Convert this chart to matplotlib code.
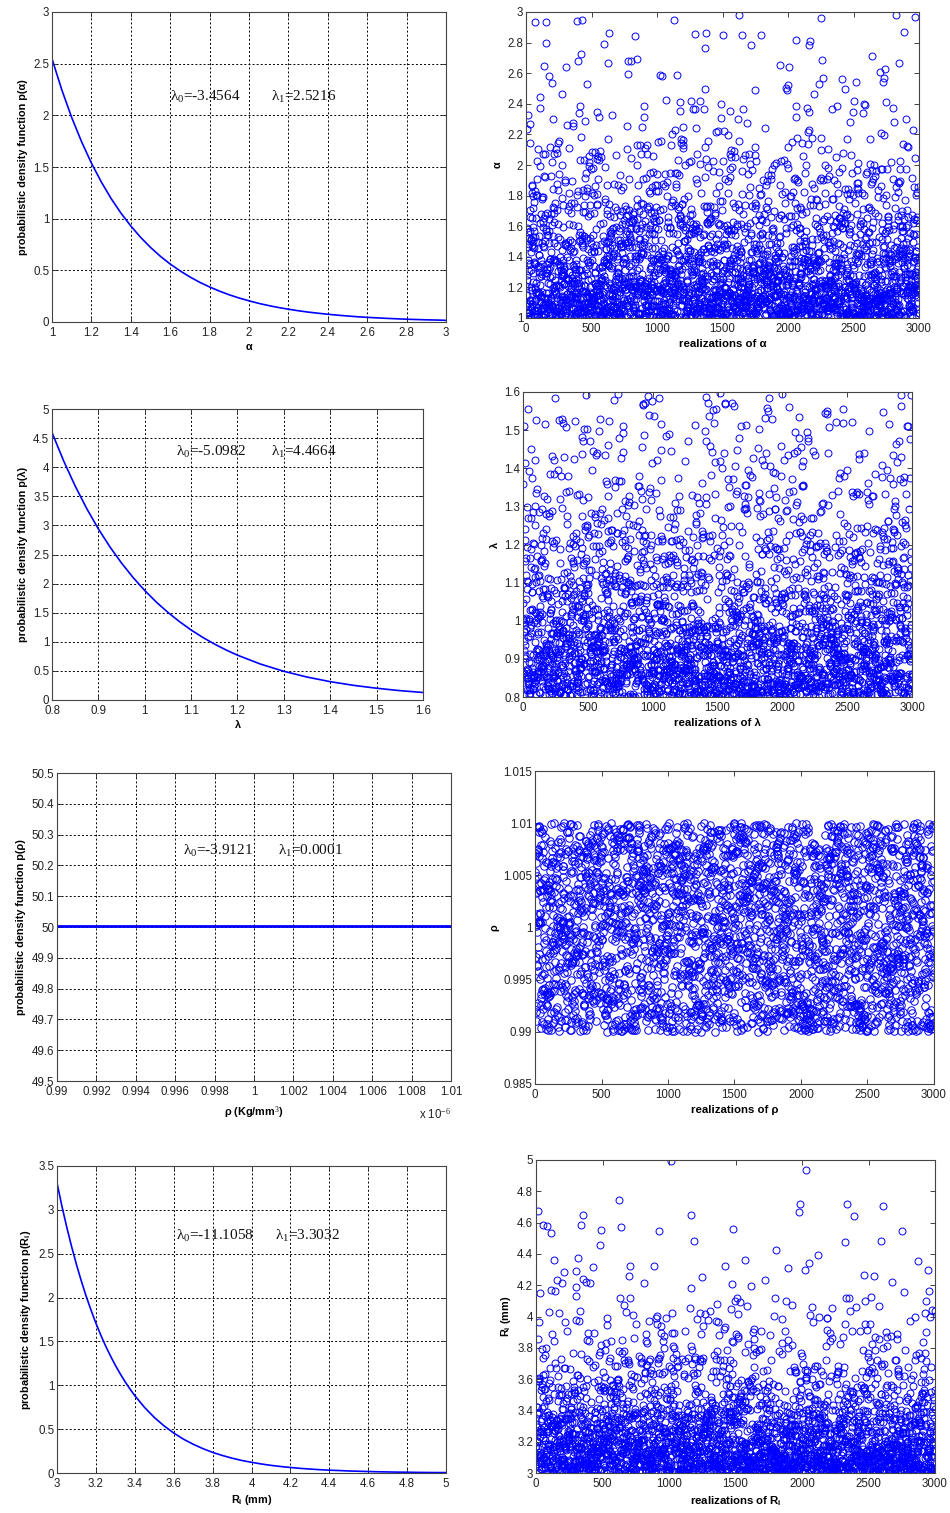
import numpy as np
import matplotlib
matplotlib.use("Agg")
import matplotlib.pyplot as plt
from matplotlib.ticker import FuncFormatter

plt.rcParams["font.family"] = ["Liberation Sans", "DejaVu Sans"]
plt.rcParams["mathtext.fontset"] = "custom"
plt.rcParams["mathtext.rm"] = "Liberation Serif"
plt.rcParams["mathtext.it"] = "Liberation Serif:italic"
plt.rcParams["mathtext.bf"] = "Liberation Serif:bold"

# ---------------- maximum-entropy densities p(x) = exp(-lambda0 - lambda1 x) ----------------
alpha_lam0, alpha_lam1 = -3.4564, 2.5216
lam_lam0, lam_lam1 = -5.0982, 4.4664
rho_lam0, rho_lam1 = -3.9121, 0.0001
ri_lam0, ri_lam1 = -11.1058, 3.3032

# p(alpha) curve
alpha_x = [1.00, 1.05, 1.10, 1.15, 1.20, 1.25, 1.30, 1.35, 1.40, 1.45, 1.50,
           1.55, 1.60, 1.65, 1.70, 1.75, 1.80, 1.85, 1.90, 1.95, 2.00, 2.05,
           2.10, 2.15, 2.20, 2.25, 2.30, 2.35, 2.40, 2.45, 2.50, 2.55, 2.60,
           2.65, 2.70, 2.75, 2.80, 2.85, 2.90, 2.95, 3.00]
alpha_pdf = [2.547, 2.245, 1.979, 1.745, 1.538, 1.356, 1.195, 1.054, 0.929,
             0.819, 0.722, 0.636, 0.561, 0.495, 0.436, 0.384, 0.339, 0.299,
             0.263, 0.232, 0.205, 0.180, 0.159, 0.140, 0.124, 0.109, 0.096,
             0.085, 0.075, 0.066, 0.058, 0.051, 0.045, 0.040, 0.035, 0.031,
             0.027, 0.024, 0.021, 0.019, 0.016]

# p(lambda) curve
lam_x = [0.800, 0.825, 0.850, 0.875, 0.900, 0.925, 0.950, 0.975, 1.000, 1.025,
         1.050, 1.075, 1.100, 1.125, 1.150, 1.175, 1.200, 1.250, 1.300, 1.350,
         1.400, 1.450, 1.500, 1.550, 1.600]
lam_pdf = [4.596, 4.110, 3.676, 3.287, 2.940, 2.630, 2.352, 2.103, 1.881, 1.682,
           1.505, 1.346, 1.203, 1.076, 0.963, 0.861, 0.770, 0.616, 0.493, 0.394,
           0.315, 0.252, 0.202, 0.161, 0.129]

# p(rho) curve (rho in units of 1e-6 Kg/mm^3)
rho_x = [0.99, 1.01]
rho_pdf = [50.004, 50.004]

# p(Ri) curve
ri_x = [3.000, 3.025, 3.050, 3.075, 3.100, 3.125, 3.150, 3.175, 3.200, 3.225,
        3.250, 3.275, 3.300, 3.325, 3.350, 3.375, 3.400, 3.45, 3.50, 3.55,
        3.60, 3.65, 3.70, 3.75, 3.80, 3.85, 3.90, 3.95, 4.00, 4.05, 4.10,
        4.15, 4.20, 4.25, 4.30, 4.35, 4.40, 4.45, 4.50, 4.55, 4.60, 4.65,
        4.70, 4.75, 4.80, 4.85, 4.90, 4.95, 5.00]
ri_pdf = [3.308, 3.045, 2.804, 2.582, 2.377, 2.189, 2.015, 1.856, 1.708, 1.573,
          1.448, 1.334, 1.228, 1.131, 1.041, 0.958, 0.882, 0.748, 0.634, 0.538,
          0.456, 0.386, 0.328, 0.278, 0.235, 0.200, 0.169, 0.143, 0.122, 0.103,
          0.087, 0.074, 0.063, 0.053, 0.045, 0.038, 0.032, 0.028, 0.023, 0.020,
          0.017, 0.014, 0.012, 0.010, 0.009, 0.007, 0.006, 0.005, 0.005]

# ---------------- sampled realizations ----------------
n_real = 3000
alpha_bounds = (1.0, 3.0)
lam_bounds = (0.8, 1.6)
rho_bounds = (0.99, 1.01)
ri_bounds = (3.0, 5.0)


def weyl_levels(n, g):
    """Quasi-Monte Carlo probability levels from a cubic Weyl sequence."""
    k = np.arange(1, n + 1, dtype=np.float64)
    return np.mod(k * k * k * g, 1.0)


def maxent_samples(u, bounds, lam1):
    """Inverse CDF of the truncated density exp(-l0 - l1 x) on [a, b]."""
    a, b = bounds
    if abs(lam1 * (b - a)) < 1e-6:
        return a + u * (b - a)
    return a - np.log1p(-u * (1.0 - np.exp(-lam1 * (b - a)))) / lam1


idx = np.arange(1, n_real + 1)
alpha_real = maxent_samples(weyl_levels(n_real, np.sqrt(2.0)), alpha_bounds, alpha_lam1)
lam_real = maxent_samples(weyl_levels(n_real, (1 + np.sqrt(5.0)) / 2), lam_bounds, lam_lam1)
rho_real = maxent_samples(weyl_levels(n_real, np.sqrt(3.0)), rho_bounds, rho_lam1 * 1e-6)
ri_real = maxent_samples(weyl_levels(n_real, np.sqrt(7.0)), ri_bounds, ri_lam1)

# ---------------- figure ----------------
W, H = 950, 1513
fig = plt.figure(figsize=(W / 100, H / 100), dpi=100)


def box(l, r, t, b):
    return [l / W, 1 - b / H, (r - l) / W, (b - t) / H]


TICK_FS = 8.3
LAB_FS = 7.8
ANN_FS = 11
BLUE = "#0000ff"


def fmt_g(v, _pos):
    return "%g" % round(v, 6)


def style(ax, grid):
    ax.tick_params(direction="in", top=True, right=True, length=3.5,
                   width=0.6, labelsize=TICK_FS, pad=2, colors="#222222",
                   labelcolor="#222222")
    ax.tick_params(axis="x", pad=3.5)
    for sp in ax.spines.values():
        sp.set_linewidth(0.8)
        sp.set_color("#444444")
    ax.xaxis.set_major_formatter(FuncFormatter(fmt_g))
    ax.yaxis.set_major_formatter(FuncFormatter(fmt_g))
    if grid:
        ax.grid(True, color="black", linestyle=(0, (2.0, 2.2)), linewidth=0.7)
        ax.set_axisbelow(True)


def annotate(ax, x0, x1, y, l0, l1):
    ax.text(x0, y, "λ$_0$=%s" % l0, fontsize=ANN_FS, va="center",
            family="Liberation Serif", color="#111111")
    ax.text(x1, y, "λ$_1$=%s" % l1, fontsize=ANN_FS, va="center",
            family="Liberation Serif", color="#111111")


def pdf_ylabel(ax, sym):
    ax.set_ylabel("probabilistic density function p(%s)" % sym,
                  fontsize=LAB_FS, fontweight="bold", labelpad=4)


def scatter_panel(ax, y, ylim, yticks, ylabel, xlabel, msize=5.0):
    ax.plot(idx, y, linestyle="none", marker="o", markersize=msize,
            markerfacecolor="none", markeredgecolor=BLUE, markeredgewidth=0.7)
    ax.set_xlim(0, 3000)
    ax.set_ylim(*ylim)
    ax.set_xticks(np.arange(0, 3001, 500))
    ax.set_yticks(yticks)
    style(ax, grid=False)
    ax.set_ylabel(ylabel, fontsize=LAB_FS, fontweight="bold", labelpad=3)
    ax.set_xlabel(xlabel, fontsize=LAB_FS + 0.4, fontweight="bold", labelpad=3)


# Row 1 : alpha
ax = fig.add_axes(box(52, 446, 12, 322))
ax.plot(alpha_x, alpha_pdf, color=BLUE, lw=1.2)
ax.set_xlim(1, 3)
ax.set_ylim(0, 3)
ax.set_xticks(np.arange(1.0, 3.01, 0.2))
ax.set_yticks(np.arange(0, 3.01, 0.5))
style(ax, grid=True)
pdf_ylabel(ax, "α")
ax.set_xlabel("α", fontsize=LAB_FS, fontweight="bold", labelpad=2)
annotate(ax, 1.60, 2.11, 2.18, "-3.4564", "2.5216")

ax = fig.add_axes(box(526, 919, 12, 318))
scatter_panel(ax, alpha_real, (1, 3), np.arange(1.0, 3.01, 0.2), "α",
              "realizations of α")

# Row 2 : lambda
ax = fig.add_axes(box(52, 423, 409, 700))
ax.plot(lam_x, lam_pdf, color=BLUE, lw=1.2)
ax.set_xlim(0.8, 1.6)
ax.set_ylim(0, 5)
ax.set_xticks(np.arange(0.8, 1.601, 0.1))
ax.set_yticks(np.arange(0, 5.01, 0.5))
style(ax, grid=True)
pdf_ylabel(ax, "λ")
ax.set_xlabel("λ", fontsize=LAB_FS, fontweight="bold", labelpad=2)
annotate(ax, 1.067, 1.272, 4.26, "-5.0982", "4.4664")

ax = fig.add_axes(box(523, 912, 392, 697))
scatter_panel(ax, lam_real, (0.8, 1.6), np.arange(0.8, 1.601, 0.1), "λ",
              "realizations of λ")

# Row 3 : rho
ax = fig.add_axes(box(57, 451, 773, 1081))
ax.plot(rho_x, rho_pdf, color=BLUE, lw=2.0)
ax.set_xlim(0.99, 1.01)
ax.set_ylim(49.5, 50.5)
ax.set_xticks(np.arange(0.99, 1.01001, 0.002))
ax.set_yticks(np.arange(49.5, 50.501, 0.1))
style(ax, grid=True)
pdf_ylabel(ax, "ρ")
ax.set_xlabel("ρ (Kg/mm$^3$)", fontsize=LAB_FS, fontweight="bold", labelpad=5)
ax.text(1.0, -0.085, "x 10$^{-6}$", transform=ax.transAxes, ha="right",
        va="top", fontsize=TICK_FS, color="#222222")
annotate(ax, 0.9964, 1.0012, 50.247, "-3.9121", "0.0001")

ax = fig.add_axes(box(535, 934, 771, 1084))
scatter_panel(ax, rho_real, (0.985, 1.015), np.arange(0.985, 1.0151, 0.005),
              "ρ", "realizations of ρ", msize=5.4)

# Row 4 : Ri
ax = fig.add_axes(box(57, 446, 1166, 1473))
ax.plot(ri_x, ri_pdf, color=BLUE, lw=1.2)
ax.set_xlim(3, 5)
ax.set_ylim(0, 3.5)
ax.set_xticks(np.arange(3.0, 5.01, 0.2))
ax.set_yticks(np.arange(0, 3.51, 0.5))
style(ax, grid=True)
pdf_ylabel(ax, "R$_\\mathregular{i}$")
ax.set_xlabel("R$_\\mathregular{i}$ (mm)", fontsize=LAB_FS, fontweight="bold", labelpad=2)
annotate(ax, 3.612, 4.12, 2.70, "-11.1058", "3.3032")

ax = fig.add_axes(box(536, 935, 1160, 1473))
scatter_panel(ax, ri_real, (3, 5), np.arange(3.0, 5.01, 0.2), "R$_\\mathregular{i}$ (mm)",
              "realizations of R$_\\mathregular{i}$")

fig.savefig("out.png", dpi=100)
